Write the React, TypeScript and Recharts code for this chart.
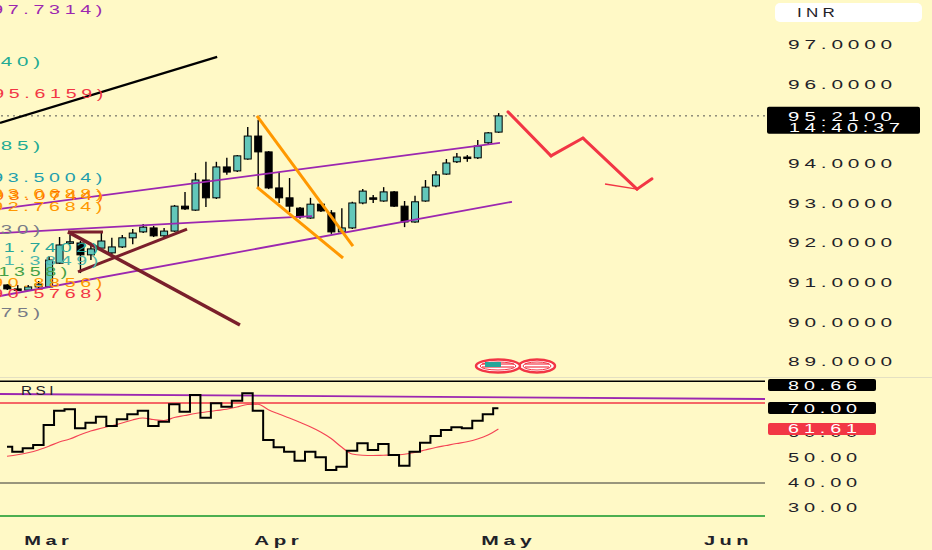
import React from "react";
import { Bar, ComposedChart, Line, ReferenceLine, XAxis, YAxis } from "recharts";

const bg = "#FFF9C6";
const teal = "#63C7BA";
const red = "#F23645";
const purple = "#9C27B0";
const orange = "#FF9800";
const maroon = "#7A1F2B";
const axisText = "#1f2229";
const font = "'Liberation Sans', Arial, sans-serif";

// daily candles
const opens = [90.94, 90.84, 90.81, 90.89, 90.89, 91.49, 92.0, 92.0, 91.7, 91.87, 91.75, 91.9, 92.13, 92.28, 92.38, 92.18, 92.3, 92.93, 92.83, 93.59, 93.14, 93.92, 93.82, 94.12, 94.7, 94.3, 93.39, 93.14, 92.88, 92.63, 92.98, 92.76, 92.28, 92.38, 93.01, 93.14, 93.06, 93.29, 92.93, 92.53, 93.06, 93.44, 93.74, 94.05, 94.17, 94.15, 94.53, 94.8];
const highs = [90.96, 90.94, 90.94, 91.04, 91.67, 92.15, 92.2, 92.05, 91.95, 92.28, 92.13, 92.2, 92.35, 92.48, 92.43, 92.38, 92.96, 93.29, 93.77, 94.05, 94.05, 94.15, 94.22, 94.93, 95.11, 94.32, 93.79, 93.64, 92.91, 93.14, 93.01, 92.83, 92.88, 93.04, 93.36, 93.21, 93.41, 93.31, 93.06, 93.19, 93.59, 93.82, 94.12, 94.27, 94.22, 94.6, 94.8, 95.28];
const lows = [90.81, 90.81, 90.79, 90.86, 90.86, 91.47, 91.97, 91.24, 91.57, 91.85, 91.72, 91.87, 91.97, 92.25, 92.15, 92.15, 92.28, 92.83, 92.81, 92.91, 93.11, 93.72, 93.79, 94.1, 93.41, 93.36, 93.01, 92.78, 92.61, 92.61, 92.78, 92.23, 92.25, 92.35, 92.98, 93.01, 93.04, 92.91, 92.4, 92.51, 93.04, 93.41, 93.72, 94.02, 94.05, 94.12, 94.5, 94.78];
const closes = [90.84, 90.81, 90.89, 90.96, 91.57, 91.95, 92.03, 91.7, 91.85, 92.05, 91.9, 92.13, 92.25, 92.4, 92.18, 92.3, 92.93, 92.86, 93.59, 93.14, 93.92, 93.79, 94.2, 94.7, 94.3, 93.39, 93.14, 92.93, 92.66, 92.98, 92.81, 92.28, 92.38, 93.01, 93.31, 93.11, 93.29, 92.93, 92.53, 93.04, 93.41, 93.72, 94.02, 94.17, 94.15, 94.45, 94.78, 95.21];

const rsiValues = [54.5, 52.5, 53.9, 55.2, 63.2, 68.9, 69.5, 61.9, 64.1, 66.5, 62.8, 65.5, 67.5, 68.9, 62.8, 64.5, 71.5, 68.5, 75.2, 66.1, 71.9, 70.5, 72.9, 75.9, 68.9, 57.2, 54.3, 52.5, 48.9, 52.5, 50.3, 45.2, 46.5, 52.9, 55.9, 53.2, 55.6, 51.2, 46.9, 52.5, 56.1, 58.8, 61.2, 62.3, 61.9, 64.9, 67.5, 69.9];
const rsiMa = [50.7, 51.3, 52.1, 53.2, 54.7, 56.4, 57.6, 59.3, 60.8, 61.9, 62.9, 64.0, 65.2, 66.0, 65.4, 65.0, 66.2, 67.0, 67.8, 68.4, 69.0, 69.5, 70.4, 71.4, 71.5, 69.3, 67.6, 66.0, 64.3, 62.5, 60.4, 57.8, 54.4, 51.6, 51.1, 51.0, 51.1, 51.2, 51.5, 52.2, 53.2, 54.2, 55.0, 55.8, 56.5, 57.6, 59.2, 61.6];

const monthTicks = [4, 26, 48, 69];
const monthLabels = ["Mar", "Apr", "May", "Jun"];
const priceTicks = [89, 90, 91, 92, 93, 94, 95, 96, 97];
const lastPrice = 95.21;
const lastTime = "14:40:37";
const rsiTicks = [30, 40, 50, 60];
const rsiMarkers = [
  { value: 61.61, fill: red },
  { value: 70, fill: "#000" },
  { value: 80.66, fill: "#000" }
];

const xDomain = [-0.67, 72.5];
const priceDomain = [88.59, 98.136];
const rsiDomain = [24.4, 82];

// drawings on the price pane: [bar index, price]
const trendLines = [
  { from: [-0.67, 95.03], to: [20.1, 96.7], color: "#000", width: 2.3 },
  { from: [-0.67, 92.86], to: [47.15, 94.53], color: purple, width: 1.8 },
  { from: [-0.67, 92.25], to: [29.17, 92.68], color: purple, width: 1.8 },
  { from: [-0.67, 90.66], to: [48.3, 93.04], color: purple, width: 1.8 },
  { from: [5.83, 92.28], to: [22.28, 89.93], color: maroon, width: 3.5 },
  { from: [6.79, 91.27], to: [17.22, 92.35], color: maroon, width: 3 },
  { from: [5.83, 92.28], to: [9.18, 92.28], color: maroon, width: 3 },
  { from: [23.91, 95.21], to: [33.09, 91.92], color: orange, width: 3 },
  { from: [23.91, 93.41], to: [32.14, 91.62], color: orange, width: 3 }
];
const arrowPath = [
  [47.92, 95.31],
  [52.03, 94.2],
  [55.09, 94.65],
  [60.26, 93.36],
  [61.69, 93.62]
];
const arrowBarb = [[57.2, 93.49], [60.26, 93.36]];

const rsiPurple = [[-0.67, 75.6], [72.5, 73.6]];

const leftLabels = [
  { text: "(97.7314)", color: purple, y: 10, end: 107 },
  { text: "(40)", color: "#22AB94", y: 62, end: 45 },
  { text: "(95.6159)", color: red, y: 94, end: 108 },
  { text: "(85)", color: "#22AB94", y: 146, end: 45 },
  { text: "(93.5004)", color: "#1E9FAE", y: 178, end: 107 },
  { text: "(93.0744)", color: "#FF6D00", y: 196, end: 108 },
  { text: "(93.0688)", color: orange, y: 194, end: 107 },
  { text: "(92.7684)", color: orange, y: 207, end: 107 },
  { text: "(30)", color: "#787B86", y: 230, end: 45 },
  { text: "(91.7402)", color: "#26A69A", y: 248, end: 103 },
  { text: "(91.3849)", color: "#4DB6AC", y: 261, end: 103 },
  { text: "(91.1358)", color: "#43A047", y: 272, end: 72 },
  { text: "(90.8856)", color: orange, y: 283, end: 107 },
  { text: "(90.5768)", color: red, y: 294, end: 107 },
  { text: "(75)", color: "#787B86", y: 313, end: 45 }
];

const data = opens.map((open, i) => ({
  i,
  open,
  high: highs[i],
  low: lows[i],
  close: closes[i],
  range: [lows[i], highs[i]],
  rsi: rsiValues[i],
  ma: rsiMa[i]
}));

// wide, letter-spaced text like the screenshot
function Stretch({ x, y, len, fill, size = 13, weight = "normal", children }: any) {
  return (
    <text
      x={x}
      y={y}
      fill={fill}
      fontFamily={font}
      fontSize={size}
      fontWeight={weight}
      letterSpacing={3}
      textLength={len}
      lengthAdjust="spacingAndGlyphs"
      dominantBaseline="central"
    >
      {children}
    </text>
  );
}

function Candle(props: any) {
  const { x, y, width, height, payload } = props;
  const top = Math.min(y, y + height);
  const h = Math.abs(height);
  const k = h / (payload.high - payload.low || 1);
  const bodyTop = top + (payload.high - Math.max(payload.open, payload.close)) * k;
  const bodyBottom = top + (payload.high - Math.min(payload.open, payload.close)) * k;
  const cx = x + width / 2;
  const up = payload.close >= payload.open;
  return (
    <g>
      <line x1={cx} x2={cx} y1={top} y2={top + h} stroke="#000" strokeWidth={1.4} />
      <rect
        x={x}
        y={bodyTop}
        width={width}
        height={Math.max(bodyBottom - bodyTop, 1.5)}
        fill={up ? teal : "#000"}
        stroke="#000"
        strokeWidth={1}
      />
    </g>
  );
}

function PriceTick(props: any) {
  const { y, payload } = props;
  const v = payload.value;
  if (v === lastPrice) {
    return (
      <g>
        <rect x={767} y={y - 9} width={153} height={27} rx={2} fill="#000" />
        <Stretch x={788} y={y + 1.5} len={109} fill="#fff" size={12}>{v.toFixed(4)}</Stretch>
        <Stretch x={789} y={y + 12.5} len={116} fill="#fff" size={12}>{lastTime}</Stretch>
      </g>
    );
  }
  return <Stretch x={788} y={y} len={109} fill={axisText}>{v.toFixed(4)}</Stretch>;
}

function RsiTick(props: any) {
  const { y, payload } = props;
  const v = payload.value;
  const marker = rsiMarkers.find((m) => m.value === v);
  if (marker) {
    const top = Math.max(y - 6, 1);
    return (
      <g>
        <rect x={768} y={top} width={108} height={12} rx={2} fill={marker.fill} />
        <Stretch x={788} y={top + 6.5} len={74} fill="#fff" size={12}>{v.toFixed(2)}</Stretch>
      </g>
    );
  }
  return <Stretch x={788} y={y} len={74} fill={axisText} size={12.5}>{v.toFixed(2)}</Stretch>;
}

function MonthTick(props: any) {
  const { x, payload } = props;
  const k = monthTicks.indexOf(payload.value);
  const len = monthLabels[k] === "May" ? 55 : 49;
  return (
    <Stretch x={x - len / 2} y={162} len={len} fill={axisText} size={13.5} weight="bold">
      {monthLabels[k]}
    </Stretch>
  );
}

function Flag({ cx, rx, canton }: { cx: number; rx: number; canton: boolean }) {
  return (
    <g>
      <ellipse cx={cx} cy={366} rx={rx} ry={6.5} fill="#fff" stroke={red} strokeWidth={2.5} />
      <ellipse cx={cx} cy={366} rx={rx - 4} ry={4} fill="none" stroke={red} strokeWidth={1} />
      <line x1={cx - rx + 6} x2={cx + rx - 6} y1={364} y2={364} stroke={red} strokeWidth={1.2} />
      <line x1={cx - rx + 6} x2={cx + rx - 6} y1={367} y2={367} stroke={red} strokeWidth={1.2} />
      {canton && <rect x={cx - 13} y={362} width={16} height={5} fill="#26A69A" />}
    </g>
  );
}

export default function App() {
  return (
    <div style={{ position: "absolute", left: 0, top: 0, width: 932, height: 550, background: bg, overflow: "hidden" }}>
      <div style={{ position: "absolute", left: 0, top: 0 }}>
        <ComposedChart width={932} height={378} data={data} margin={{ top: 0, right: 0, bottom: 0, left: 0 }}>
          <XAxis type="number" dataKey="i" domain={xDomain} allowDataOverflow hide />
          <YAxis
            orientation="right"
            width={167}
            domain={priceDomain}
            allowDataOverflow
            ticks={[...priceTicks, lastPrice]}
            interval={0}
            axisLine={false}
            tickLine={false}
            tick={(p: any) => <PriceTick {...p} />}
          />
          <ReferenceLine y={lastPrice} stroke="#555" strokeDasharray="2 4" strokeWidth={1} />
          {trendLines.map((t, k) => (
            <ReferenceLine
              key={`t${k}`}
              segment={[{ x: t.from[0], y: t.from[1] }, { x: t.to[0], y: t.to[1] }]}
              stroke={t.color}
              strokeWidth={t.width}
              ifOverflow="visible"
            />
          ))}
          {arrowPath.slice(1).map((pt, k) => (
            <ReferenceLine
              key={`a${k}`}
              segment={[{ x: arrowPath[k][0], y: arrowPath[k][1] }, { x: pt[0], y: pt[1] }]}
              stroke={red}
              strokeWidth={3}
              strokeLinecap="round"
              ifOverflow="visible"
            />
          ))}
          <ReferenceLine
            segment={[{ x: arrowBarb[0][0], y: arrowBarb[0][1] }, { x: arrowBarb[1][0], y: arrowBarb[1][1] }]}
            stroke={red}
            strokeWidth={1.5}
            ifOverflow="visible"
          />
          <Bar dataKey="range" shape={Candle} barSize={7} isAnimationActive={false} />
        </ComposedChart>
      </div>
      <div style={{ position: "absolute", left: 0, top: 378 }}>
        <ComposedChart width={932} height={172} data={data} margin={{ top: 0, right: 0, bottom: 0, left: 0 }}>
          <XAxis
            type="number"
            dataKey="i"
            domain={xDomain}
            allowDataOverflow
            ticks={monthTicks}
            interval={0}
            height={28}
            axisLine={false}
            tickLine={false}
            tick={(p: any) => <MonthTick {...p} />}
          />
          <YAxis
            orientation="right"
            width={167}
            domain={rsiDomain}
            allowDataOverflow
            ticks={[...rsiTicks, ...rsiMarkers.map((m) => m.value)]}
            interval={0}
            axisLine={false}
            tickLine={false}
            tick={(p: any) => <RsiTick {...p} />}
          />
          <ReferenceLine y={80.66} stroke="#000" strokeWidth={1.5} />
          <ReferenceLine
            segment={[{ x: rsiPurple[0][0], y: rsiPurple[0][1] }, { x: rsiPurple[1][0], y: rsiPurple[1][1] }]}
            stroke={purple}
            strokeWidth={1.8}
            ifOverflow="visible"
          />
          <ReferenceLine y={72} stroke={red} strokeWidth={1.5} />
          <ReferenceLine y={40} stroke="#333" strokeWidth={1} />
          <ReferenceLine y={26.8} stroke="#4CAF50" strokeWidth={2} />
          <Line type="monotone" dataKey="ma" stroke="#F44455" strokeWidth={1.2} dot={false} isAnimationActive={false} />
          <Line type="step" dataKey="rsi" stroke="#000" strokeWidth={2} dot={false} isAnimationActive={false} />
        </ComposedChart>
      </div>
      <svg width={932} height={550} style={{ position: "absolute", left: 0, top: 0, pointerEvents: "none" }}>
        {leftLabels.map((l, k) => (
          <Stretch key={k} x={l.end - l.text.length * 14} y={l.y} len={l.text.length * 14} fill={l.color} size={12.5}>
            {l.text}
          </Stretch>
        ))}
        <line x1={0} x2={932} y1={377.5} y2={377.5} stroke="#E4E0C2" strokeWidth={1} />
        <Stretch x={21} y={390} len={36} fill={axisText} size={13}>RSI</Stretch>
        <rect x={775} y={3} width={147} height={19} rx={5} fill="#fff" />
        <Stretch x={797} y={12.5} len={42} fill={axisText} size={12}>INR</Stretch>
        <Flag cx={537} rx={18} canton={false} />
        <Flag cx={498} rx={22} canton={true} />
      </svg>
    </div>
  );
}
